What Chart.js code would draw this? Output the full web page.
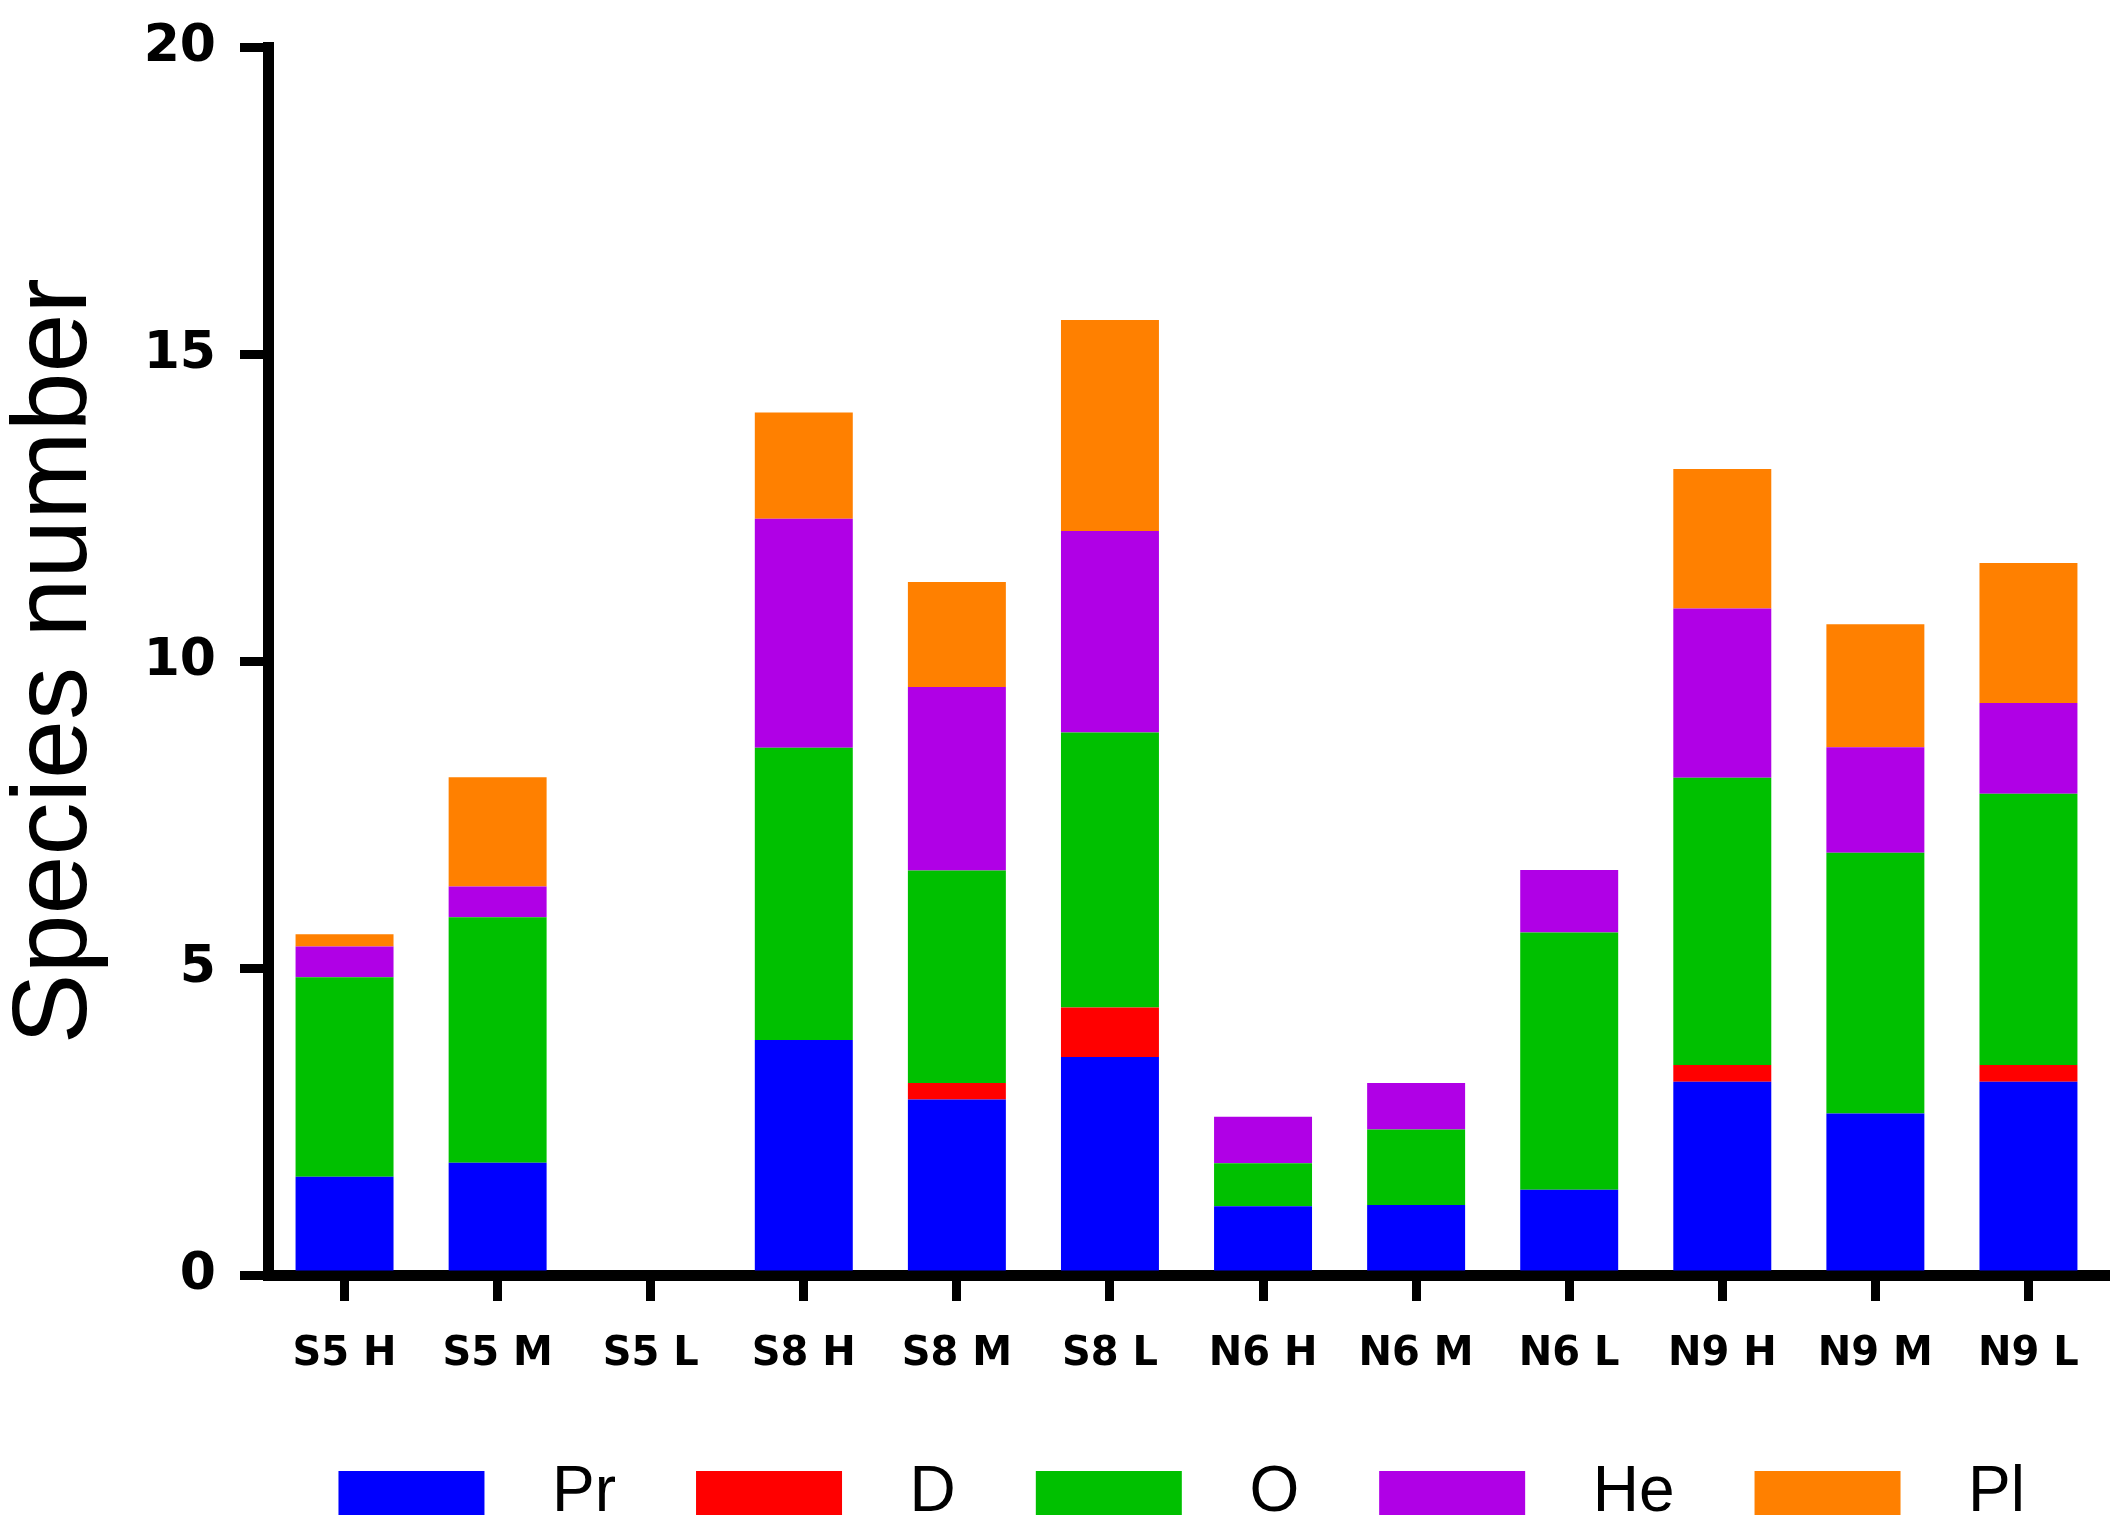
<!DOCTYPE html>
<html>
<head>
<meta charset="utf-8">
<script src="https://cdn.jsdelivr.net/npm/chart.js@4"></script>
<style>
  html, body { margin: 0; padding: 0; background: #fff; }
  #wrap { width: 2126px; height: 1539px; }
</style>
</head>
<body>
<div id="wrap"><canvas id="speciesChart"></canvas></div>
<script>
const sites = ['S5 H', 'S5 M', 'S5 L', 'S8 H', 'S8 M', 'S8 L', 'N6 H', 'N6 M', 'N6 L', 'N9 H', 'N9 M', 'N9 L'];
const groupNames = ['Pr', 'D', 'O', 'He', 'Pl'];

// species counts per group
const prData = [1.6, 1.83, 0, 3.83, 2.86, 3.55, 1.12, 1.14, 1.39, 3.15, 2.63, 3.15];
const dData = [0, 0, 0, 0, 0.27, 0.81, 0, 0, 0, 0.27, 0, 0.27];
const oData = [3.25, 4.0, 0, 4.76, 3.46, 4.48, 0.7, 1.23, 4.19, 4.68, 4.25, 4.42];
const heData = [0.5, 0.5, 0, 3.73, 2.99, 3.28, 0.76, 0.76, 1.02, 2.76, 1.72, 1.48];
const plData = [0.2, 1.78, 0, 1.73, 1.71, 3.44, 0, 0, 0, 2.27, 2.0, 2.28];

const yTicks = [0, 5, 10, 15, 20];
const groupColors = ['#0000ff', '#ff0000', '#00c000', '#b000e6', '#ff8000'];

const seriesValues = [prData, dData, oData, heData, plData];

const ctx = document.getElementById('speciesChart').getContext('2d');

const speciesChart = new Chart(ctx, {
  type: 'bar',
  data: {
    labels: sites,
    datasets: groupNames.map((name, i) => ({
      label: name,
      data: seriesValues[i],
      backgroundColor: groupColors[i],
      borderWidth: 0,
      categoryPercentage: 1,
      barPercentage: 0.64,
    })),
  },
  options: {
    responsive: true,
    maintainAspectRatio: false,
    animation: false,
    devicePixelRatio: 1,
    layout: {
      padding: { top: 30, right: 21, left: 0, bottom: 4 },
    },
    plugins: {
      tooltip: { enabled: false },
      legend: {
        display: true,
        position: 'bottom',
        align: 'end',
        labels: {
          color: '#000',
          boxWidth: 146,
          boxHeight: 44,
          padding: 80,
          font: { family: 'Liberation Sans, Arial, sans-serif', size: 64 },
          generateLabels: (chart) => {
            const items = Chart.defaults.plugins.legend.labels.generateLabels(chart);
            items.forEach((it) => {
              it.text = '  ' + it.text;
              it.lineWidth = 0;
            });
            return items;
          },
        },
      },
    },
    scales: {
      x: {
        stacked: true,
        offset: true,
        border: { display: true, color: '#000', width: 11 },
        grid: {
          display: true,
          drawOnChartArea: false,
          drawTicks: true,
          tickLength: 26,
          color: '#000',
          lineWidth: 9,
          offset: false,
        },
        ticks: {
          color: '#000',
          padding: 30,
          maxRotation: 0,
          font: { family: 'DejaVu Sans, sans-serif', size: 40, weight: 'bold' },
        },
        afterFit: (scale) => { scale.height = 106; },
      },
      y: {
        stacked: true,
        min: 0,
        max: 20,
        border: { display: true, color: '#000', width: 11 },
        grid: {
          display: true,
          drawOnChartArea: false,
          drawTicks: true,
          tickLength: 28,
          color: '#000',
          lineWidth: 9,
        },
        afterBuildTicks: (scale) => {
          scale.ticks = yTicks.map((v) => ({ value: v }));
        },
        ticks: {
          color: '#000',
          padding: 24,
          font: { family: 'DejaVu Sans, sans-serif', size: 52, weight: 'bold', lineHeight: 0.9 },
        },
        title: {
          display: true,
          text: 'Species number',
          color: '#000',
          padding: { top: 4, bottom: 0 },
          font: { family: 'Liberation Sans, Arial, sans-serif', size: 106, lineHeight: 1.0 },
        },
        afterFit: (scale) => { scale.width = 268; },
      },
    },
  },
});
</script>
</body>
</html>
